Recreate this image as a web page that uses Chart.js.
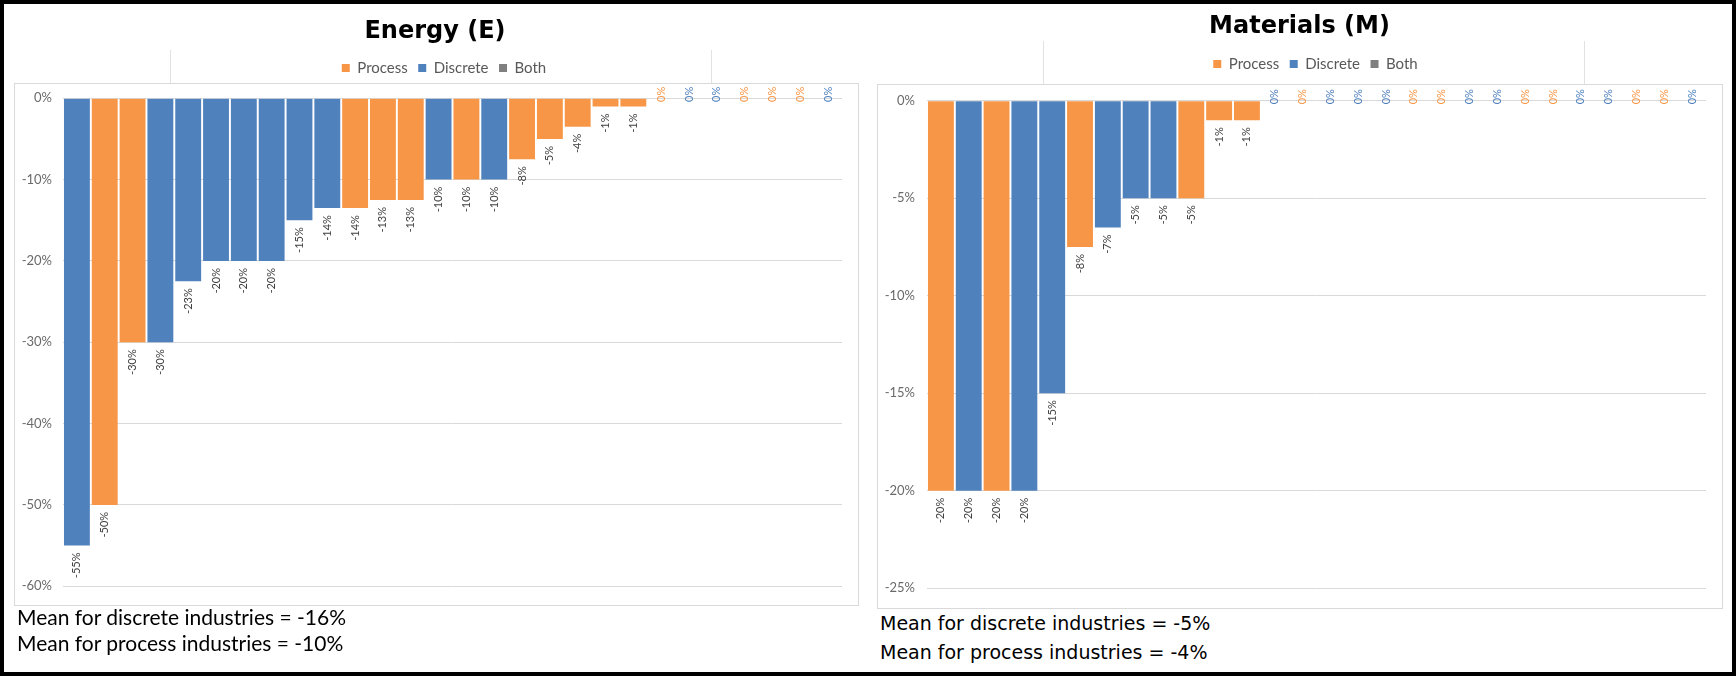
<!DOCTYPE html>
<html><head><meta charset="utf-8">
<script src="https://cdn.jsdelivr.net/npm/chart.js@4.4.1/dist/chart.umd.min.js"></script>
<style>
html,body{margin:0;padding:0;background:#fff;}
#page{position:relative;width:1736px;height:676px;overflow:hidden;background:#fff;}
.abs{position:absolute;}
.box{position:absolute;box-sizing:border-box;border:1px solid #d9d9d9;}
.vline{position:absolute;width:1px;background:#e2e2e2;}
.meanL{position:absolute;left:17px;font-family:Lato;font-size:21px;line-height:21px;color:#000;white-space:nowrap;}
.meanR{position:absolute;left:880px;font-family:'DejaVu Sans';font-size:19px;line-height:19px;color:#000;white-space:nowrap;}
#frame{position:absolute;left:0;top:0;width:1736px;height:676px;box-sizing:border-box;border:4px solid #000;pointer-events:none;}
</style></head>
<body><div id="page">
<div class="vline" style="left:170px;top:50px;height:33px"></div>
<div class="vline" style="left:711px;top:50px;height:33px"></div>
<div class="vline" style="left:1043px;top:41px;height:43px"></div>
<div class="vline" style="left:1584px;top:41px;height:43px"></div>
<div class="box" style="left:14px;top:83px;width:845px;height:523px"></div>
<div class="box" style="left:877px;top:84px;width:846px;height:525px"></div>
<canvas id="cE" class="abs" style="left:14px;top:4px" width="845" height="601"></canvas>
<canvas id="cM" class="abs" style="left:877px;top:4px" width="845" height="604"></canvas>
<div class="meanL" style="top:606px">Mean for discrete industries = -16%</div>
<div class="meanL" style="top:632px">Mean for process industries = -10%</div>
<div class="meanR" style="top:614px">Mean for discrete industries = -5%</div>
<div class="meanR" style="top:643px">Mean for process industries = -4%</div>
<div id="frame"></div>
</div>
<script>
// ---------- data ----------
const energyCategories = ['1','2','3','4','5','6','7','8','9','10','11','12','13','14','15','16','17','18','19','20','21','22','23','24','25','26','27','28'];
const energyValues = [-55, -50, -30, -30, -22.5, -20, -20, -20, -15, -13.5, -13.5, -12.5, -12.5, -10, -10, -10, -7.5, -5, -3.5, -1, -1, 0, 0, 0, 0, 0, 0, 0];
const energyTypes  = ['D','P','P','D','D','D','D','D','D','D','P','P','P','D','P','D','P','P','P','P','P','P','D','D','P','P','P','D'];
const energyTicks  = [0, -10, -20, -30, -40, -50, -60];

const materialsCategories = ['1','2','3','4','5','6','7','8','9','10','11','12','13','14','15','16','17','18','19','20','21','22','23','24','25','26','27','28'];
const materialsValues = [-20, -20, -20, -20, -15, -7.5, -6.5, -5, -5, -5, -1, -1, 0, 0, 0, 0, 0, 0, 0, 0, 0, 0, 0, 0, 0, 0, 0, 0];
const materialsTypes  = ['P','D','P','D','D','P','D','D','D','P','P','P','D','P','D','D','D','P','P','D','D','P','P','D','D','P','P','D'];
const materialsTicks  = [0, -5, -10, -15, -20, -25];

const seriesNames  = ['Process', 'Discrete', 'Both'];
const seriesCodes  = ['P', 'D', 'B'];
const seriesColors = ['#F79646', '#4F81BD', '#7F7F7F'];

// ---------- helpers ----------
function buildDatasets(values, types) {
  return seriesNames.map((name, s) => ({
    label: name,
    data: values.map((v, i) => types[i] === seriesCodes[s] ? v : null),
    backgroundColor: seriesColors[s],
    borderWidth: 0,
    grouped: false,
    barPercentage: 0.93,
    categoryPercentage: 1.0
  }));
}

const barLabels = {
  id: 'barLabels',
  afterDatasetsDraw(chart) {
    const ctx = chart.ctx;
    chart.data.datasets.forEach((ds, di) => {
      const meta = chart.getDatasetMeta(di);
      meta.data.forEach((bar, i) => {
        const v = ds.data[i];
        if (v === null || v === undefined) return;
        const r = Math.sign(v) * Math.round(Math.abs(v));
        const txt = r + '%';
        ctx.save();
        ctx.font = '11px Lato';
        ctx.textBaseline = 'middle';
        if (v === 0) {
          ctx.fillStyle = ds.backgroundColor;
          ctx.translate(bar.x, bar.y - 4);
          ctx.rotate(-Math.PI / 2);
          ctx.textAlign = 'center';
        } else {
          ctx.fillStyle = '#404040';
          ctx.translate(bar.x, bar.y + 7);
          ctx.rotate(-Math.PI / 2);
          ctx.textAlign = 'right';
        }
        ctx.fillText(txt, 0, 0);
        ctx.restore();
      });
    });
  }
};

// centres the title and legend blocks where they sat in the original
const blockShift = {
  id: 'blockShift',
  afterLayout(chart, args, opts) {
    const move = (blk, c) => {
      if (!blk || c === undefined) return;
      const d = c - (blk.left + blk.right) / 2;
      blk.left += d; blk.right += d;
    };
    move(chart.titleBlock, opts.titleCenter);
    move(chart.legend, opts.legendCenter);
  }
};

function makeChart(id, title, cats, values, types, ticks, cfg) {
  return new Chart(document.getElementById(id), {
    type: 'bar',
    data: { labels: cats, datasets: buildDatasets(values, types) },
    options: {
      responsive: false,
      animation: false,
      devicePixelRatio: 1,
      layout: { padding: { left: 0, right: cfg.padRight, top: 0, bottom: cfg.padBottom } },
      plugins: {
        title: {
          display: true, text: title, color: '#000',
          font: { family: 'DejaVu Sans', size: 24, weight: 'bold', lineHeight: 1 },
          padding: { top: cfg.titleTop, bottom: cfg.titleBottom }
        },
        legend: {
          display: true, position: 'top',
          labels: {
            color: '#595959', font: { family: 'Lato', size: 15 },
            boxWidth: 8, boxHeight: 8, padding: cfg.legendPad
          }
        },
        blockShift: { titleCenter: cfg.titleCenter, legendCenter: cfg.legendCenter },
        tooltip: { enabled: false }
      },
      scales: {
        x: {
          position: 'top',
          grid: { display: false, drawTicks: false },
          border: { display: false },
          ticks: { display: false },
          afterFit: s => { s.height = cfg.spacer; }
        },
        y: {
          min: ticks[ticks.length - 1], max: ticks[0],
          afterBuildTicks: s => { s.ticks = ticks.map(v => ({ value: v })); },
          afterFit: s => { s.width = cfg.yWidth; },
          grid: { color: '#d9d9d9', lineWidth: 1, drawTicks: false },
          border: { display: false },
          ticks: {
            padding: cfg.tickPad, color: '#6a6a6a',
            font: { family: 'Lato', size: 13 },
            callback: v => v + '%'
          }
        }
      }
    },
    plugins: [barLabels, blockShift]
  });
}

makeChart('cE', 'Energy (E)', energyCategories, energyValues, energyTypes, energyTicks,
  { padRight: 17, padBottom: 14.7, titleTop: 15.5, titleBottom: 6.5, legendPad: 10.5,
    titleCenter: 421, legendCenter: 430, spacer: 12.8, yWidth: 49, tickPad: 11 });
makeChart('cM', 'Materials (M)', materialsCategories, materialsValues, materialsTypes, materialsTicks,
  { padRight: 16, padBottom: 16, titleTop: 11, titleBottom: 7, legendPad: 10.5,
    titleCenter: 422.5, legendCenter: 438.5, spacer: 19.2, yWidth: 50, tickPad: 12 });
</script>
</body></html>
